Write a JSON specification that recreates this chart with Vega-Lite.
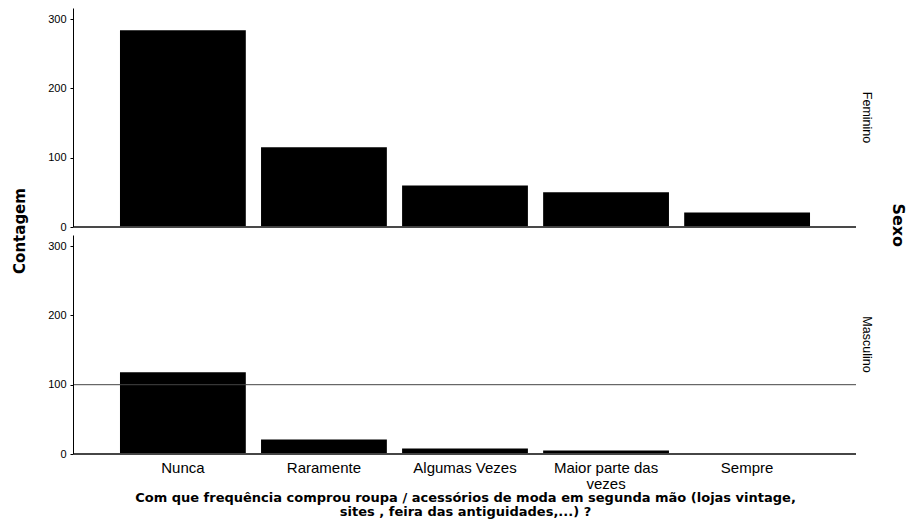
{
  "$schema": "https://vega.github.io/schema/vega-lite/v6.json",
  "background": "white",
  "padding": {"left": 12, "top": 8, "right": 2, "bottom": 0},
  "title": {
    "text": "Sexo",
    "orient": "right",
    "angle": 90,
    "anchor": "middle",
    "font": "DejaVu Sans",
    "fontSize": 16,
    "fontWeight": "bold",
    "color": "black",
    "offset": 17,
    "dx": -38
  },
  "data": {
    "values": [
      {"sexo": "Feminino", "freq": "Nunca", "contagem": 284},
      {"sexo": "Feminino", "freq": "Raramente", "contagem": 115},
      {"sexo": "Feminino", "freq": "Algumas Vezes", "contagem": 60},
      {"sexo": "Feminino", "freq": "Maior parte das vezes", "contagem": 50},
      {"sexo": "Feminino", "freq": "Sempre", "contagem": 21},
      {"sexo": "Masculino", "freq": "Nunca", "contagem": 118},
      {"sexo": "Masculino", "freq": "Raramente", "contagem": 21},
      {"sexo": "Masculino", "freq": "Algumas Vezes", "contagem": 8},
      {"sexo": "Masculino", "freq": "Maior parte das vezes", "contagem": 5},
      {"sexo": "Masculino", "freq": "Sempre", "contagem": 0},
      {"sexo": "Masculino", "ref": 100}
    ]
  },
  "facet": {
    "row": {
      "field": "sexo",
      "type": "nominal",
      "sort": ["Feminino", "Masculino"],
      "title": "Contagem",
      "header": {
        "labelOrient": "right",
        "labelAngle": 90,
        "labelFont": "Liberation Sans",
        "labelFontSize": 12.5,
        "labelColor": "black",
        "labelPadding": 3,
        "titleOrient": "left",
        "titleAngle": -90,
        "titleFont": "DejaVu Sans",
        "titleFontSize": 15,
        "titleFontWeight": "bold",
        "titleColor": "black",
        "titlePadding": -6
      }
    }
  },
  "spacing": 7,
  "spec": {
    "width": 782,
    "height": 219,
    "layer": [
      {
        "transform": [{"filter": "isValid(datum.contagem)"}],
        "mark": {"type": "bar", "color": "black"},
        "encoding": {
          "x": {
            "field": "freq",
            "type": "nominal",
            "sort": ["Nunca", "Raramente", "Algumas Vezes", "Maior parte das vezes", "Sempre"],
            "scale": {"paddingInner": 0.108, "paddingOuter": 0.326},
            "axis": {
              "labelAngle": 0,
              "ticks": false,
              "domain": false,
              "labelFont": "Liberation Sans",
              "labelFontSize": 15,
              "labelColor": "black",
              "labelPadding": 5,
              "labelLineHeight": 16,
              "labelExpr": "datum.label == 'Maior parte das vezes' ? ['Maior parte das', 'vezes'] : datum.label",
              "title": ["Com que frequência comprou roupa / acessórios de moda em segunda mão (lojas vintage,", "sites , feira das antiguidades,...) ?"],
              "titleFont": "DejaVu Sans",
              "titleFontSize": 13,
              "titleFontWeight": "bold",
              "titleColor": "black",
              "titlePadding": 0,
              "titleLineHeight": 14.5
            }
          },
          "y": {
            "field": "contagem",
            "type": "quantitative",
            "scale": {"domain": [0, 316], "nice": false},
            "axis": {
              "values": [0, 100, 200, 300],
              "grid": false,
              "tickSize": 3,
              "tickColor": "black",
              "domainColor": "black",
              "labelFont": "Liberation Sans",
              "labelFontSize": 11,
              "labelColor": "black",
              "labelPadding": 4,
              "title": null
            }
          }
        }
      },
      {
        "mark": {"type": "rule", "color": "#444444", "strokeWidth": 1},
        "encoding": {"y": {"datum": 0}}
      },
      {
        "transform": [{"filter": "isValid(datum.ref)"}],
        "mark": {"type": "rule", "color": "#444444", "strokeWidth": 1},
        "encoding": {"y": {"field": "ref", "type": "quantitative"}}
      }
    ]
  },
  "config": {
    "view": {"stroke": null}
  }
}
